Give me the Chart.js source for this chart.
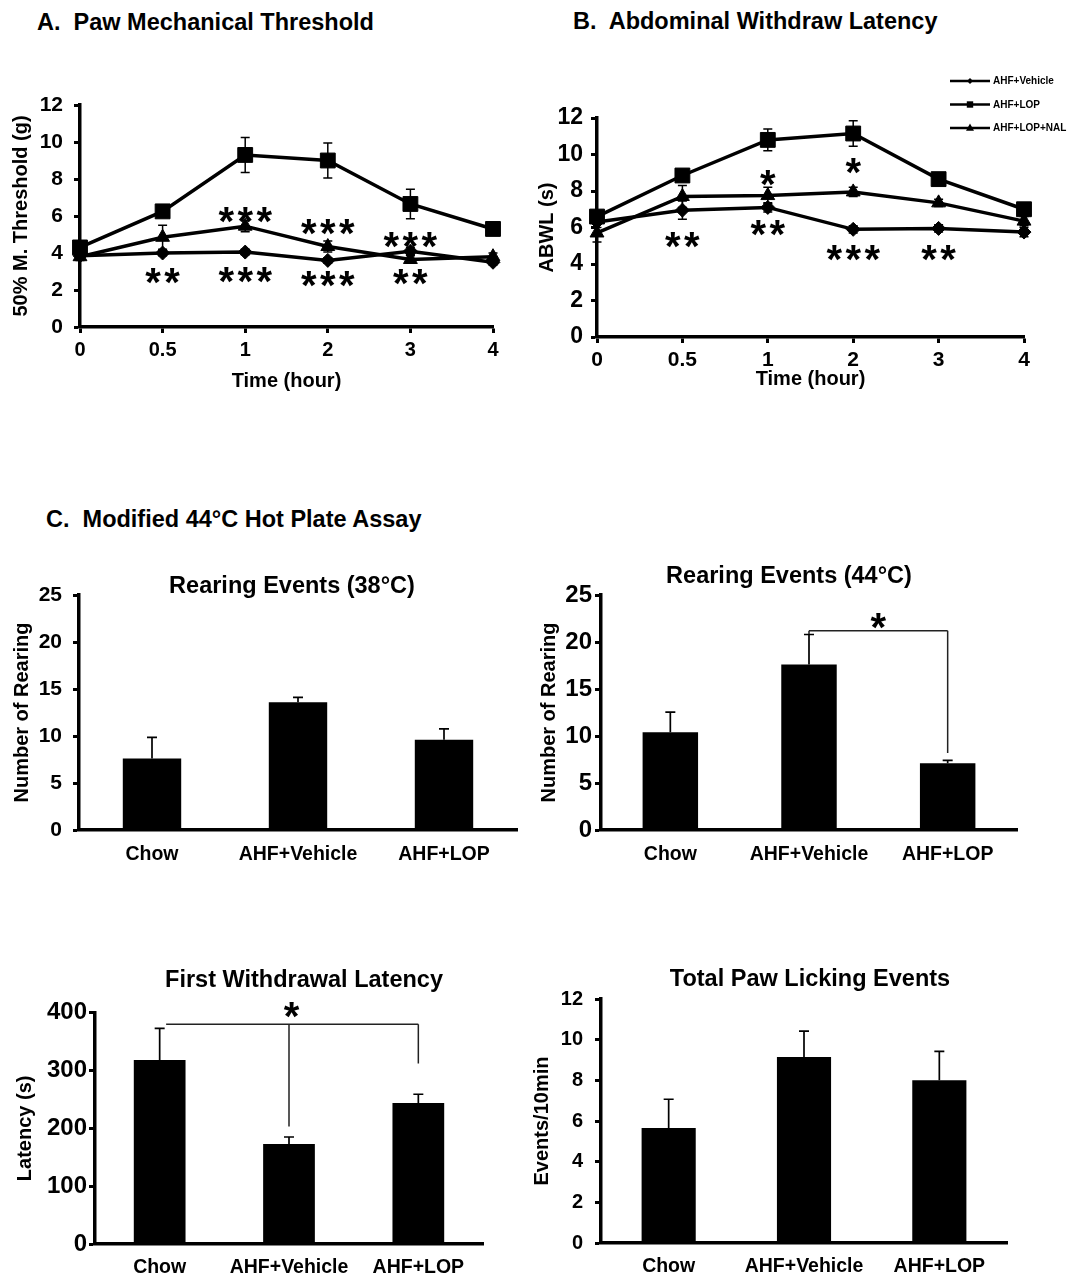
<!DOCTYPE html>
<html>
<head>
<meta charset="utf-8">
<title>Hot plate / threshold figure</title>
<script src="https://cdn.jsdelivr.net/npm/chart.js@4.4.1/dist/chart.umd.min.js"></script>
<style>
  body { margin: 0; background: #fff; }
  #page { position: relative; width: 1075px; height: 1278px; overflow: hidden; font-family: "Liberation Sans", Arial, sans-serif; color: #000; }
  .hdr { position: absolute; font-weight: bold; font-size: 23.5px; line-height: 23.5px; white-space: pre; }
  .ttl { position: absolute; width: 400px; text-align: center; font-weight: bold; font-size: 23.5px; line-height: 23.5px; white-space: pre; }
  canvas { position: absolute; }
</style>
</head>
<body>
<div id="page">
  <canvas id="pawChart" width="520" height="340" style="left:0px;top:60px"></canvas>
  <canvas id="abwlChart" width="555" height="340" style="left:520px;top:60px"></canvas>
  <canvas id="rear38Chart" width="537" height="310" style="left:0px;top:570px"></canvas>
  <canvas id="rear44Chart" width="545" height="320" style="left:530px;top:560px"></canvas>
  <canvas id="latencyChart" width="537" height="293" style="left:0px;top:985px"></canvas>
  <canvas id="lickChart" width="550" height="303" style="left:525px;top:975px"></canvas>

  <div class="hdr" style="left:37px;top:11px">A.  Paw Mechanical Threshold</div>
  <div class="hdr" style="left:573px;top:10px">B.  Abdominal Withdraw Latency</div>
  <div class="hdr" style="left:46px;top:508px">C.  Modified 44°C Hot Plate Assay</div>

  <div class="ttl" style="left:92px;top:574px">Rearing Events (38°C)</div>
  <div class="ttl" style="left:589px;top:564px">Rearing Events (44°C)</div>
  <div class="ttl" style="left:104px;top:968px">First Withdrawal Latency</div>
  <div class="ttl" style="left:610px;top:967px">Total Paw Licking Events</div>
</div>

<script>
const FONT = '"Liberation Sans", Arial, sans-serif';

// time course (panels A and B)
const timeLabels = ['0', '0.5', '1', '2', '3', '4'];
const groupNames = ['AHF+Vehicle', 'AHF+LOP', 'AHF+LOP+NAL'];

// A. 50% mechanical threshold (g), mean and SEM
const pawVehicle = [3.85, 4.0, 4.05, 3.6, 4.1, 3.5];
const pawVehicleSem = [0.15, 0.15, 0.15, 0.15, 0.2, 0.15];
const pawLop = [4.3, 6.25, 9.3, 9.0, 6.65, 5.3];
const pawLopSem = [0.3, 0.25, 0.95, 0.95, 0.8, 0.3];
const pawNal = [3.8, 4.85, 5.45, 4.35, 3.65, 3.8];
const pawNalSem = [0.2, 0.65, 0.3, 0.3, 0.2, 0.2];
// significance marks: category index, height (value units), number of stars
const pawStars = [
  {at: 2, y: 6.05, n: 3}, {at: 3, y: 5.4, n: 3}, {at: 4, y: 4.7, n: 3},
  {at: 1, y: 2.75, n: 2}, {at: 2, y: 2.8, n: 3}, {at: 3, y: 2.6, n: 3}, {at: 4, y: 2.7, n: 2}
];

// B. abdominal withdrawal latency (s)
const abwlVehicle = [6.3, 6.95, 7.1, 5.9, 5.95, 5.75];
const abwlVehicleSem = [0.3, 0.5, 0.25, 0.2, 0.2, 0.25];
const abwlLop = [6.6, 8.85, 10.8, 11.15, 8.65, 7.0];
const abwlLopSem = [0.3, 0.25, 0.6, 0.7, 0.2, 0.2];
const abwlNal = [5.7, 7.7, 7.75, 7.95, 7.35, 6.35];
const abwlNalSem = [0.5, 0.6, 0.45, 0.25, 0.2, 0.25];
const abwlStars = [
  {at: 2, y: 8.7, n: 1}, {at: 3, y: 9.35, n: 1},
  {at: 1, y: 5.3, n: 2}, {at: 2, y: 6.0, n: 2}, {at: 3, y: 4.6, n: 3}, {at: 4, y: 4.6, n: 2}
];

// C. hot plate assay
const barGroups = ['Chow', 'AHF+Vehicle', 'AHF+LOP'];
const rearing38 = [7.6, 13.6, 9.6];
const rearing38Sem = [2.25, 0.5, 1.15];
const rearing44 = [10.4, 17.6, 7.1];
const rearing44Sem = [2.15, 3.2, 0.3];
const latency = [318, 173, 244];
const latencySem = [55, 12, 15];
const licking = [5.65, 9.15, 8.0];
const lickingSem = [1.42, 1.27, 1.42];

// brackets: horizontal from..to at y, with drops [index, end value]
const rear44Brackets = [{from: 1, to: 2, y: 21.2, drops: [[1, 20.85], [2, 8.2]]}];
const rear44Stars = [{at: 1.5, y: 22.2, n: 1}];
const latencyBrackets = [{from: 0.05, to: 2, y: 380, drops: [[1, 203], [2, 312]]}];
const latencyStars = [{at: 1.02, y: 405, n: 1}];

Chart.defaults.font.family = FONT;
Chart.defaults.color = '#000';

// error bars from dataset.errors
const errorBarsPlugin = {
  id: 'errorBars',
  beforeDatasetsDraw(chart, args, opts) {
    const ctx = chart.ctx, y = chart.scales.y;
    ctx.save();
    ctx.strokeStyle = '#000';
    ctx.lineWidth = opts.lineWidth || 1.5;
    chart.data.datasets.forEach((ds, di) => {
      if (!ds.errors) return;
      chart.getDatasetMeta(di).data.forEach((el, i) => {
        const v = ds.data[i], e = ds.errors[i];
        const top = y.getPixelForValue(v + e);
        const bot = opts.upOnly ? y.getPixelForValue(v) : y.getPixelForValue(v - e);
        const cap = opts.cap || 5;
        ctx.beginPath();
        ctx.moveTo(el.x, bot);
        ctx.lineTo(el.x, top);
        ctx.moveTo(el.x - cap, top);
        ctx.lineTo(el.x + cap, top);
        if (!opts.upOnly) {
          ctx.moveTo(el.x - cap, bot);
          ctx.lineTo(el.x + cap, bot);
        }
        ctx.stroke();
      });
    });
    ctx.restore();
  }
};

// asterisks placed on the scales
const starsPlugin = {
  id: 'stars',
  afterDatasetsDraw(chart, args, opts) {
    if (!opts.items) return;
    const ctx = chart.ctx, x = chart.scales.x, y = chart.scales.y;
    ctx.save();
    ctx.fillStyle = '#000';
    ctx.font = 'bold ' + opts.size + 'px ' + FONT;
    ctx.textAlign = 'center';
    ctx.textBaseline = 'alphabetic';
    const m = ctx.measureText('*');
    const shift = (m.actualBoundingBoxAscent - m.actualBoundingBoxDescent) / 2;
    opts.items.forEach(it => {
      const cx = x.getPixelForValue(it.at);
      const cy = y.getPixelForValue(it.y);
      for (let k = 0; k < it.n; k++) {
        ctx.fillText('*', cx + (k - (it.n - 1) / 2) * opts.gap, cy + shift);
      }
    });
    ctx.restore();
  }
};

const bracketPlugin = {
  id: 'brackets',
  afterDatasetsDraw(chart, args, opts) {
    if (!opts.items) return;
    const ctx = chart.ctx, x = chart.scales.x, y = chart.scales.y;
    ctx.save();
    ctx.strokeStyle = '#222';
    ctx.lineWidth = 1.5;
    opts.items.forEach(b => {
      const yy = y.getPixelForValue(b.y);
      ctx.beginPath();
      ctx.moveTo(x.getPixelForValue(b.from), yy);
      ctx.lineTo(x.getPixelForValue(b.to), yy);
      b.drops.forEach(d => {
        const dx = x.getPixelForValue(d[0]);
        ctx.moveTo(dx, yy);
        ctx.lineTo(dx, y.getPixelForValue(d[1]));
      });
      ctx.stroke();
    });
    ctx.restore();
  }
};

function drawMarker(ctx, style, cx, cy, r) {
  ctx.beginPath();
  if (style === 'rect') {
    ctx.rect(cx - r, cy - r, 2 * r, 2 * r);
  } else if (style === 'triangle') {
    ctx.moveTo(cx, cy - r * 1.1);
    ctx.lineTo(cx + r, cy + r * 0.7);
    ctx.lineTo(cx - r, cy + r * 0.7);
    ctx.closePath();
  } else {
    ctx.moveTo(cx, cy - r);
    ctx.lineTo(cx + r, cy);
    ctx.lineTo(cx, cy + r);
    ctx.lineTo(cx - r, cy);
    ctx.closePath();
  }
  ctx.fill();
}

// small legend in the top right corner of panel B
const sideLegendPlugin = {
  id: 'sideLegend',
  afterDraw(chart, args, opts) {
    if (!opts.display) return;
    const ctx = chart.ctx;
    ctx.save();
    ctx.fillStyle = '#000';
    ctx.strokeStyle = '#000';
    ctx.lineWidth = 2.5;
    ctx.font = 'bold ' + opts.size + 'px ' + FONT;
    ctx.textBaseline = 'middle';
    chart.data.datasets.forEach((ds, i) => {
      const yy = opts.y + i * opts.gap;
      ctx.beginPath();
      ctx.moveTo(opts.x, yy);
      ctx.lineTo(opts.x + opts.lineLen, yy);
      ctx.stroke();
      drawMarker(ctx, ds.pointStyle, opts.x + opts.lineLen / 2, yy, opts.markers[i]);
      ctx.fillText(ds.label, opts.x + opts.lineLen + 3, yy + 0.5);
    });
    ctx.restore();
  }
};

function valueAxis(min, max, step, title, s) {
  return {
    type: 'linear', min: min, max: max,
    ticks: { stepSize: step, color: '#000', padding: s.tickPad, font: { family: FONT, size: s.tickSize, weight: 'bold' } },
    grid: { drawOnChartArea: false, drawTicks: true, tickLength: 6, tickWidth: 3, tickColor: '#000', color: '#000' },
    border: { color: '#000', width: 3.5 },
    title: { display: true, text: title, color: '#000', font: { family: FONT, size: 20, weight: 'bold' }, padding: { top: s.titlePad, bottom: 0 } },
    afterFit: function (scale) { scale.width = s.width; }
  };
}

function lineSet(label, data, sem, style, radius) {
  return {
    label: label, data: data, errors: sem,
    borderColor: '#000', backgroundColor: '#000', borderWidth: 3.5,
    pointStyle: style, pointRadius: radius, pointBackgroundColor: '#000',
    pointBorderColor: '#000', pointBorderWidth: 1, tension: 0, clip: false
  };
}

function lineChart(id, sets, yMax, yTitle, s) {
  return new Chart(document.getElementById(id), {
    type: 'line',
    data: { labels: timeLabels, datasets: sets },
    options: {
      responsive: false, animation: false, devicePixelRatio: 1, events: [],
      layout: { padding: { left: 0, right: s.padR, top: s.padT, bottom: 0 } },
      scales: {
        x: {
          type: 'category', offset: false,
          ticks: { color: '#000', padding: s.xTickPad, font: { family: FONT, size: s.xTickSize, weight: 'bold' } },
          grid: { drawOnChartArea: false, drawTicks: true, tickLength: 6, tickWidth: 3, tickColor: '#000', color: '#000' },
          border: { color: '#000', width: 3.5 },
          title: { display: true, text: 'Time (hour)', color: '#000', font: { family: FONT, size: 20, weight: 'bold' }, padding: { top: 0, bottom: s.xTitlePad } },
          afterFit: function (scale) { scale.height = s.xHeight; }
        },
        y: valueAxis(0, yMax, 2, yTitle, s.y)
      },
      plugins: {
        legend: { display: false }, tooltip: { enabled: false },
        errorBars: { lineWidth: 1.5, cap: 4.5 },
        stars: { items: s.stars, size: 40, gap: 19 },
        sideLegend: s.legend || { display: false }
      }
    },
    plugins: [errorBarsPlugin, starsPlugin, sideLegendPlugin]
  });
}

function barChart(id, values, sem, yMax, step, yTitle, s) {
  return new Chart(document.getElementById(id), {
    type: 'bar',
    data: {
      labels: barGroups,
      datasets: [{ label: yTitle, data: values, errors: sem, backgroundColor: '#000', borderWidth: 0, barPercentage: 0.4, categoryPercentage: 1.0 }]
    },
    options: {
      responsive: false, animation: false, devicePixelRatio: 1, events: [],
      layout: { padding: { left: 0, right: s.padR, top: s.padT, bottom: 0 } },
      scales: {
        x: {
          ticks: { color: '#000', padding: s.xTickPad, font: { family: FONT, size: 19.5, weight: 'bold' } },
          grid: { display: false, drawTicks: false },
          border: { color: '#000', width: 3.5 },
          afterFit: function (scale) { scale.height = s.xHeight; }
        },
        y: valueAxis(0, yMax, step, yTitle, s.y)
      },
      plugins: {
        legend: { display: false }, tooltip: { enabled: false },
        errorBars: { lineWidth: 1.7, cap: 5, upOnly: true },
        stars: { items: s.stars || [], size: 40, gap: 19 },
        brackets: { items: s.brackets || [] }
      }
    },
    plugins: [errorBarsPlugin, bracketPlugin, starsPlugin]
  });
}

lineChart('pawChart', [
  lineSet(groupNames[0], pawVehicle, pawVehicleSem, 'rectRot', 7),
  lineSet(groupNames[1], pawLop, pawLopSem, 'rect', 10.5),
  lineSet(groupNames[2], pawNal, pawNalSem, 'triangle', 8)
], 12, '50% M. Threshold (g)', {
  padR: 27, padT: 45, xHeight: 73, xTickPad: 5, xTickSize: 20, xTitlePad: 7, stars: pawStars,
  y: { width: 80, tickPad: 11, tickSize: 21, titlePad: 9 }
});

lineChart('abwlChart', [
  lineSet(groupNames[0], abwlVehicle, abwlVehicleSem, 'rectRot', 7),
  lineSet(groupNames[1], abwlLop, abwlLopSem, 'rect', 10.5),
  lineSet(groupNames[2], abwlNal, abwlNalSem, 'triangle', 8)
], 12, 'ABWL (s)', {
  padR: 51, padT: 58, xHeight: 63, xTickPad: 5, xTickSize: 21, xTitlePad: 9, stars: abwlStars,
  y: { width: 77, tickPad: 8, tickSize: 23, titlePad: 15 },
  legend: { display: true, x: 430, y: 21, gap: 23.5, lineLen: 40, size: 10, markers: [3, 3.2, 4] }
});

barChart('rear38Chart', rearing38, rearing38Sem, 25, 5, 'Number of Rearing', {
  padR: 20, padT: 25, xHeight: 50, xTickPad: 13,
  y: { width: 79, tickPad: 11, tickSize: 21, titlePad: 10 }
});

barChart('rear44Chart', rearing44, rearing44Sem, 25, 5, 'Number of Rearing', {
  padR: 58, padT: 35, xHeight: 50, xTickPad: 13, stars: rear44Stars, brackets: rear44Brackets,
  y: { width: 71, tickPad: 3, tickSize: 24, titlePad: 7 }
});

barChart('latencyChart', latency, latencySem, 400, 100, 'Latency (s)', {
  padR: 54, padT: 27.7, xHeight: 34, xTickPad: 12, stars: latencyStars, brackets: latencyBrackets,
  y: { width: 95, tickPad: 2, tickSize: 24, titlePad: 13 }
});

barChart('lickChart', licking, lickingSem, 12, 2, 'Events/10min', {
  padR: 68, padT: 23, xHeight: 35, xTickPad: 12,
  y: { width: 76, tickPad: 12, tickSize: 20, titlePad: 5 }
});
</script>
</body>
</html>
